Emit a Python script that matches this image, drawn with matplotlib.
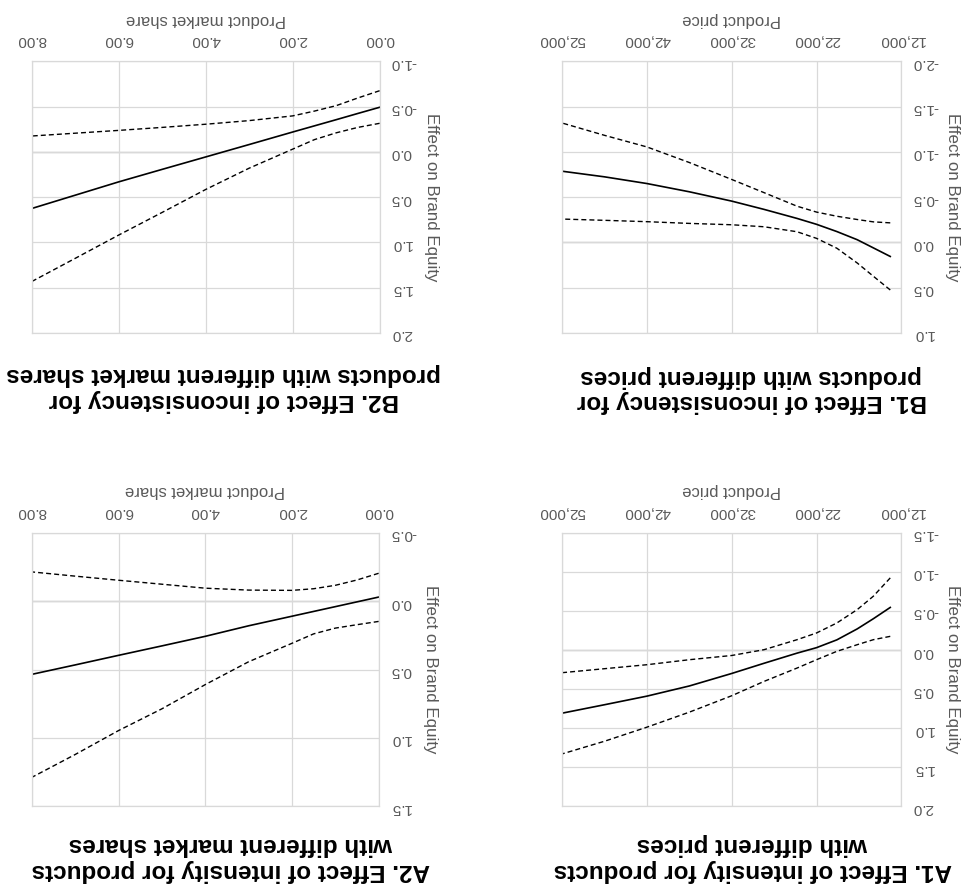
import numpy as np
import matplotlib
matplotlib.use("Agg")
import matplotlib.pyplot as plt
from matplotlib.ticker import FuncFormatter

plt.rcParams["font.family"] = ["Liberation Sans", "DejaVu Sans"]
plt.rcParams["axes.unicode_minus"] = False

# product price panels (A1, B1)
price = [13300, 15300, 17200, 19600, 22000, 24300, 28200, 32000, 37000, 42000, 47000, 52000]
price_ticks = [12000, 22000, 32000, 42000, 52000]

a1_effect = [-0.545, -0.40, -0.27, -0.13, -0.03, 0.04, 0.17, 0.30, 0.46, 0.59, 0.70, 0.808]
a1_ci_low = [-0.923, -0.688, -0.517, -0.346, -0.218, -0.132, -0.004, 0.07, 0.124, 0.188, 0.239, 0.29]
a1_ci_high = [-0.175, -0.132, -0.068, 0.017, 0.124, 0.231, 0.402, 0.585, 0.795, 0.987, 1.167, 1.329]

b1_effect = [0.155, 0.06, -0.03, -0.12, -0.20, -0.265, -0.365, -0.456, -0.559, -0.65, -0.724, -0.786]
b1_ci_low = [-0.216, -0.227, -0.253, -0.289, -0.335, -0.40, -0.55, -0.695, -0.882, -1.054, -1.182, -1.318]
b1_ci_high = [0.525, 0.373, 0.227, 0.064, -0.045, -0.118, -0.173, -0.195, -0.21, -0.229, -0.244, -0.258]

# market share panels (A2, B2)
share = [0.0, 0.5, 1.0, 1.5, 2.0, 3.0, 4.0, 5.0, 6.0, 7.0, 8.0]
share_ticks = [0.0, 2.0, 4.0, 6.0, 8.0]

a2_effect = [-0.03, 0.005, 0.04, 0.075, 0.11, 0.18, 0.257, 0.327, 0.396, 0.466, 0.535]
a2_ci_low = [-0.204, -0.155, -0.116, -0.091, -0.079, -0.081, -0.095, -0.124, -0.153, -0.183, -0.214]
a2_ci_high = [0.148, 0.172, 0.197, 0.239, 0.308, 0.443, 0.61, 0.787, 0.946, 1.121, 1.288]

b2_effect = [-0.492, -0.424, -0.355, -0.287, -0.219, -0.081, 0.056, 0.193, 0.331, 0.478, 0.625]
b2_ci_low = [-0.675, -0.595, -0.51, -0.45, -0.397, -0.345, -0.305, -0.27, -0.237, -0.206, -0.175]
b2_ci_high = [-0.315, -0.27, -0.21, -0.135, -0.03, 0.18, 0.415, 0.668, 0.918, 1.175, 1.431]

TICK_COLOR = "#595959"
GRID_COLOR = "#d9d9d9"
DASH = (0, (3.6, 2.2))


def draw_panel(ax, x, mid, low, high, xticks, ylim, xfmt, xlabel):
    # the whole chart is shown turned upside down (180 degrees)
    ax.plot(x, mid, color="black", lw=1.2)
    ax.plot(x, low, color="black", lw=1.0, linestyle=DASH)
    ax.plot(x, high, color="black", lw=1.0, linestyle=DASH)
    ax.axhline(0, color="#bfbfbf", lw=1.0, zorder=0.5)

    ax.set_xlim(xticks[-1], xticks[0])
    ax.set_ylim(ylim[1], ylim[0])
    ax.set_xticks(xticks)
    ax.set_yticks(np.arange(ylim[0], ylim[1] + 0.01, 0.5))
    ax.xaxis.set_major_formatter(FuncFormatter(xfmt))
    ax.yaxis.set_major_formatter(FuncFormatter(lambda v, p: f"{v:.1f}"))

    ax.xaxis.tick_top()
    ax.yaxis.tick_right()
    ax.tick_params(axis="both", length=0, labelsize=11, labelcolor=TICK_COLOR,
                   labelrotation=180)
    ax.tick_params(axis="x", pad=10)
    ax.tick_params(axis="y", pad=8)

    ax.grid(True, color=GRID_COLOR, lw=0.9)
    ax.set_axisbelow(True)
    for sp in ax.spines.values():
        sp.set_color(GRID_COLOR)
        sp.set_linewidth(0.9)

    ax.xaxis.set_label_position("top")
    ax.set_xlabel(xlabel, rotation=180, fontsize=12, color=TICK_COLOR, labelpad=7)
    ax.yaxis.set_label_position("right")
    ax.set_ylabel("Effect on Brand Equity", fontsize=12.2, color=TICK_COLOR, labelpad=5)
    ax.yaxis.label.set_rotation(270)
    ax.yaxis.label.set_va("bottom")


fig = plt.figure(figsize=(9.66, 8.88), dpi=100)

ax_b1 = fig.add_axes([0.582, 0.625, 0.351, 0.306])
ax_b2 = fig.add_axes([0.033, 0.625, 0.360, 0.306])
ax_a1 = fig.add_axes([0.582, 0.092, 0.351, 0.308])
ax_a2 = fig.add_axes([0.033, 0.092, 0.359, 0.308])

price_fmt = lambda v, p: f"{v:,.0f}"
share_fmt = lambda v, p: f"{v:.2f}"

draw_panel(ax_a1, price, a1_effect, a1_ci_low, a1_ci_high, price_ticks, (-1.5, 2.0),
           price_fmt, "Product price")
draw_panel(ax_b1, price, b1_effect, b1_ci_low, b1_ci_high, price_ticks, (-2.0, 1.0),
           price_fmt, "Product price")
draw_panel(ax_a2, share, a2_effect, a2_ci_low, a2_ci_high, share_ticks, (-0.5, 1.5),
           share_fmt, "Product market share")
draw_panel(ax_b2, share, b2_effect, b2_ci_low, b2_ci_high, share_ticks, (-1.0, 2.0),
           share_fmt, "Product market share")

title_kw = dict(rotation=180, ha="center", va="center", fontsize=17.5, fontweight="bold",
                multialignment="center", linespacing=1.15)
fig.text(0.778, 0.562, "B1. Effect of inconsistency for\nproducts with different prices", **title_kw)
fig.text(0.232, 0.564, "B2. Effect of inconsistency for\nproducts with different market shares", **title_kw)
fig.text(0.779, 0.034, "A1. Effect of intensity for products\nwith different prices", **title_kw)
fig.text(0.239, 0.034, "A2. Effect of intensity for products\nwith different market shares", **title_kw)

fig.savefig("out.png", dpi=100)
